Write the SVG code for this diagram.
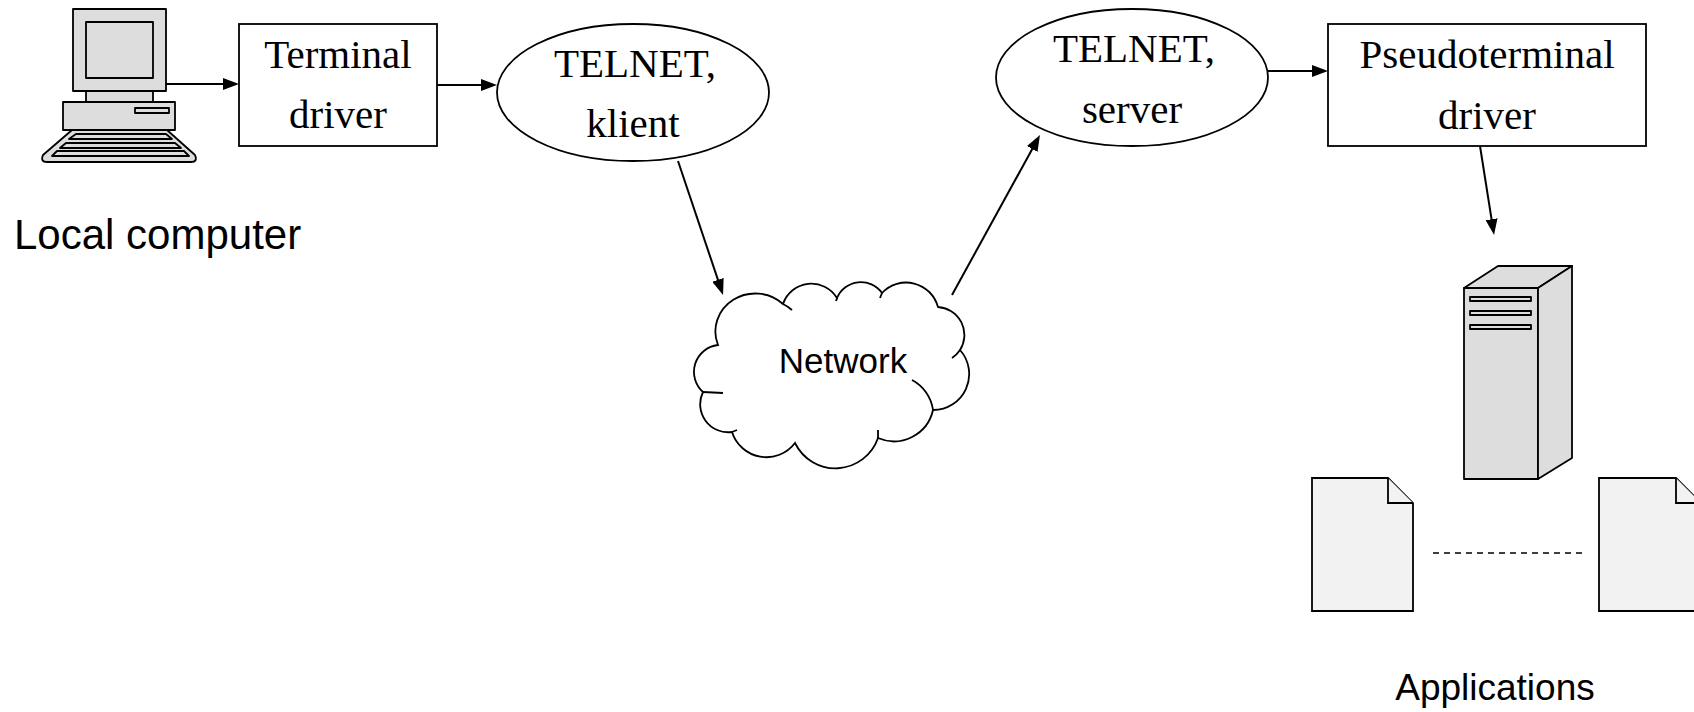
<svg xmlns="http://www.w3.org/2000/svg" width="1694" height="712" viewBox="0 0 1694 712">
<style>
.shape{fill:#ffffff;stroke:#000;stroke-width:1.8}
.gray{fill:#dddddd;stroke:#000;stroke-width:1.8;stroke-linejoin:round}
.doc{fill:#f2f2f2;stroke:#000;stroke-width:1.8}
.serif{font-family:"Liberation Serif","Times New Roman",serif;font-size:41px;fill:#000;text-anchor:middle}
.sans{font-family:"Liberation Sans",Arial,sans-serif;fill:#000}
.conn{fill:none;stroke:#000;stroke-width:2;marker-end:url(#arr)}
.stub{fill:none;stroke:#000;stroke-width:1.8}
</style>
<defs>
<marker id="arr" markerUnits="userSpaceOnUse" markerWidth="16" markerHeight="12" refX="8" refY="6" orient="auto">
<path d="M0,0 L16,6 L0,12 Z" fill="#000"/>
</marker>
</defs>
<rect width="1694" height="712" fill="#fff"/>

<g id="local-computer">
<rect class="gray" x="73" y="9" width="93" height="82"/>
<rect class="gray" x="86" y="22" width="67" height="56"/>
<rect class="gray" x="86" y="91" width="67" height="11"/>
<rect class="gray" x="63" y="102" width="112" height="28"/>
<rect class="gray" x="135" y="108" width="34" height="5"/>
<path class="gray" d="M72,130 H167 L195,155 Q198,162 191,162 H47 Q40,162 43,155 Z"/>
<path class="gray" d="M76,134 H166 L172,139 H69 Z"/>
<path class="gray" d="M66,143 H175 L181,148 H60 Z"/>
<path class="gray" d="M57,151 H184 L189,156 H52 Z"/>
<text class="sans" x="14" y="249" font-size="42">Local computer</text>
</g>

<g id="terminal-driver">
<rect class="shape" x="239" y="24" width="198" height="122"/>
<text class="serif" x="338" y="68">Terminal</text>
<text class="serif" x="338" y="128">driver</text>
</g>

<g id="telnet-client">
<ellipse class="shape" cx="633" cy="92.5" rx="136" ry="68.5"/>
<text class="serif" x="635" y="77">TELNET,</text>
<text class="serif" x="633" y="137">klient</text>
</g>

<g id="network">
<path class="shape" d="M718,345 A40 38 0 0 1 783,304 A30 30 0 0 1 837,298 A26 26 0 0 1 882,293 A33 33 0 0 1 938,307 A28 28 0 0 1 960,350 A36 36 0 0 1 933,410 A40 40 0 0 1 878,438 A45 45 0 0 1 795,443 A36 36 0 0 1 732,432 A28 28 0 0 1 703,392 A27 27 0 0 1 718,345 Z"/>
<path class="stub" d="M783,304 A40 38 0 0 1 792,310"/>
<path class="stub" d="M837,298 L836,301"/>
<path class="stub" d="M882,293 L880,298"/>
<path class="stub" d="M960,350 A28 28 0 0 1 952,358"/>
<path class="stub" d="M912,380 A40 40 0 0 1 933,410"/>
<path class="stub" d="M878,438 L878,430"/>
<path class="stub" d="M703,392 L723,393"/>
<path class="stub" d="M732,432 L737,430"/>
<text class="sans" x="843" y="373" font-size="35" text-anchor="middle">Network</text>
</g>

<g id="telnet-server">
<ellipse class="shape" cx="1132" cy="77.5" rx="136" ry="68.5"/>
<text class="serif" x="1134" y="62">TELNET,</text>
<text class="serif" x="1132" y="123">server</text>
</g>

<g id="pseudoterminal-driver">
<rect class="shape" x="1328" y="24" width="318" height="122"/>
<text class="serif" x="1487" y="68">Pseudoterminal</text>
<text class="serif" x="1487" y="129">driver</text>
</g>

<g id="server">
<rect class="gray" x="1464" y="288" width="74" height="191"/>
<path class="gray" d="M1464,288 L1498,266 H1572 L1538,288 Z"/>
<path class="gray" d="M1538,288 L1572,266 V458 L1538,479 Z"/>
<rect class="gray" x="1470" y="297" width="61" height="4"/>
<rect class="gray" x="1470" y="311" width="61" height="4"/>
<rect class="gray" x="1470" y="325" width="61" height="4"/>
</g>

<g id="applications">
<path class="doc" d="M1312,478 H1388 L1413,503 V611 H1312 Z"/>
<path class="doc" d="M1388,478 V503 H1413"/>
<path class="doc" d="M1599,478 H1676 L1701,503 V611 H1599 Z"/>
<path class="doc" d="M1676,478 V503 H1701"/>
<line x1="1433" y1="553" x2="1586" y2="553" stroke="#000" stroke-width="1.5" stroke-dasharray="6,5"/>
<text class="sans" x="1495" y="700" font-size="37" text-anchor="middle">Applications</text>
</g>

<g id="connectors">
<line class="conn" x1="166" y1="84" x2="231" y2="84"/>
<line class="conn" x1="437" y1="85" x2="489" y2="85"/>
<line class="conn" x1="678" y1="161" x2="720.5" y2="287.4"/>
<line class="conn" x1="952" y1="295" x2="1036.1" y2="142"/>
<line class="conn" x1="1268" y1="71" x2="1320" y2="71"/>
<line class="conn" x1="1480" y1="146" x2="1492.8" y2="227.1"/>
</g>
</svg>
